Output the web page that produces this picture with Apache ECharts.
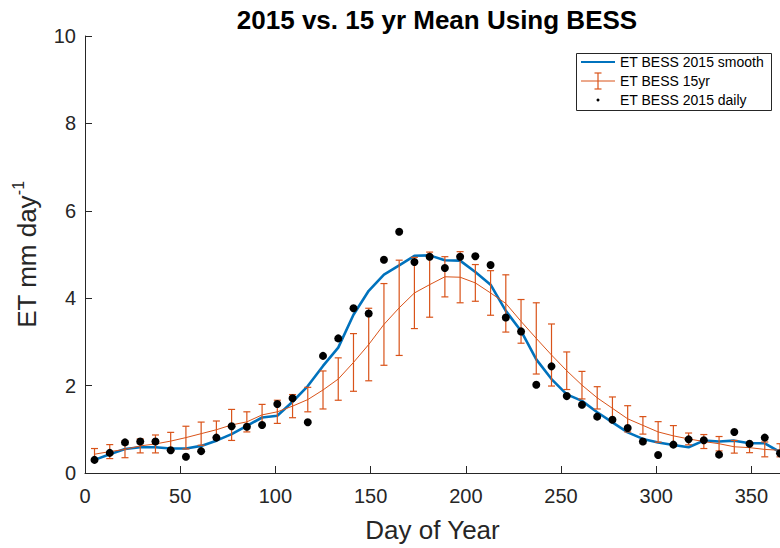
<!DOCTYPE html>
<html>
<head>
<meta charset="utf-8">
<script src="https://cdn.jsdelivr.net/npm/echarts@6/dist/echarts.min.js"></script>
<style>html,body{margin:0;padding:0;background:#fff}#c{width:780px;height:548px}</style>
</head>
<body>
<div id="c"></div>
<script>
// Day of year (8-day composites)
const days = [5,13,21,29,37,45,53,61,69,77,85,93,101,109,117,125,133,141,149,157,165,173,181,189,197,205,213,221,229,237,245,253,261,269,277,285,293,301,309,317,325,333,341,349,357,365];
// ET BESS 2015 smooth
const smooth2015 = [0.30,0.43,0.55,0.59,0.59,0.56,0.56,0.62,0.74,0.89,1.08,1.27,1.31,1.63,1.99,2.45,2.87,3.62,4.17,4.54,4.75,4.97,4.98,4.87,4.86,4.60,4.31,3.71,3.25,2.60,2.15,1.80,1.65,1.39,1.16,0.93,0.78,0.70,0.64,0.59,0.74,0.72,0.74,0.68,0.68,0.48];
// ET BESS 15yr mean
const mean15 = [0.43,0.49,0.54,0.62,0.665,0.73,0.81,0.90,0.99,1.10,1.17,1.33,1.40,1.53,1.68,1.90,2.15,2.53,2.94,3.40,3.78,4.12,4.31,4.49,4.48,4.35,4.12,3.88,3.47,3.08,2.70,2.34,2.01,1.72,1.48,1.24,1.09,0.94,0.85,0.78,0.72,0.67,0.60,0.58,0.54,0.52];
// ET BESS 15yr std (error bar half-width)
const std15 = [0.13,0.16,0.19,0.16,0.205,0.20,0.26,0.265,0.20,0.355,0.23,0.24,0.265,0.265,0.28,0.435,0.485,0.66,0.83,0.935,1.09,0.815,0.745,0.46,0.585,0.42,0.51,0.655,0.50,0.815,0.71,0.43,0.315,0.255,0.26,0.30,0.20,0.235,0.235,0.135,0.16,0.165,0.145,0.115,0.17,0.15];
// ET BESS 2015 daily
const daily2015 = [0.30,0.46,0.70,0.72,0.72,0.52,0.37,0.50,0.81,1.07,1.06,1.10,1.58,1.71,1.16,2.68,3.08,3.77,3.65,4.88,5.52,4.83,4.95,4.69,4.95,4.96,4.76,3.56,3.24,2.02,2.44,1.76,1.56,1.29,1.22,1.03,0.72,0.41,0.65,0.77,0.75,0.42,0.94,0.67,0.81,0.45];
const xTicks = [0,50,100,150,200,250,300,350];
const yTicks = [0,2,4,6,8,10];

const FONT = 'Liberation Sans, Arial, Helvetica, sans-serif';
const AX = '#262626';
const BLUE = '#0072BD';
const ORANGE = '#D95319';

const chart = echarts.init(document.getElementById('c'), null, {renderer: 'svg'});
const option = {
  animation: false,
  backgroundColor: '#fff',
  title: {
    text: '2015 vs. 15 yr Mean Using BESS',
    left: 432, top: 2, textAlign: 'center',
    textStyle: {fontFamily: FONT, fontSize: 26, fontWeight: 'bold', color: '#000'}
  },
  grid: {left: 85, top: 36, right: -2, bottom: 74, containLabel: false},
  xAxis: {
    type: 'value', min: 0, max: 365, interval: 50,
    axisLine: {show: true, lineStyle: {color: AX, width: 1}},
    axisTick: {show: true, inside: true, length: 7, lineStyle: {color: AX}},
    axisLabel: {fontFamily: FONT, fontSize: 20, color: AX, margin: 13, showMaxLabel: false,
      formatter: v => xTicks.indexOf(v) >= 0 ? String(v) : ''},
    splitLine: {show: false},
    name: 'Day of Year', nameLocation: 'middle', nameGap: 44,
    nameTextStyle: {fontFamily: FONT, fontSize: 26, color: AX}
  },
  yAxis: {
    type: 'value', min: 0, max: 10, interval: 2,
    axisLine: {show: true, lineStyle: {color: AX, width: 1}},
    axisTick: {show: true, inside: true, length: 7, lineStyle: {color: AX}},
    axisLabel: {fontFamily: FONT, fontSize: 20, color: AX, margin: 9,
      formatter: v => yTicks.indexOf(v) >= 0 ? String(v) : ''},
    splitLine: {show: false},
    name: '{a|ET mm day}{b|-1}', nameLocation: 'middle', nameGap: 45, nameRotate: 90,
    nameTextStyle: {fontFamily: FONT, color: AX,
      rich: {a: {fontFamily: FONT, fontSize: 26, color: AX, verticalAlign: 'bottom', lineHeight: 30},
             b: {fontFamily: FONT, fontSize: 16, color: AX, verticalAlign: 'top', lineHeight: 30}}}
  },
  series: [
    {name: 'ET BESS 2015 smooth', type: 'line', data: days.map((d, i) => [d, smooth2015[i]]),
     showSymbol: false, symbol: 'none', lineStyle: {color: BLUE, width: 2.6}, z: 2, silent: true},
    {name: 'ET BESS 15yr', type: 'line', data: days.map((d, i) => [d, mean15[i]]),
     showSymbol: false, symbol: 'none', lineStyle: {color: ORANGE, width: 1}, z: 3, silent: true},
    {name: 'ET BESS 15yr err', type: 'custom', z: 3, silent: true,
     data: days.map((d, i) => [d, mean15[i], std15[i]]),
     encode: {x: 0, y: 1},
     renderItem: function (params, api) {
       const x = api.value(0), y = api.value(1), e = api.value(2);
       const hi = api.coord([x, y + e]);
       const lo = api.coord([x, y - e]);
       const hw = 3.5;
       const st = {stroke: ORANGE, lineWidth: 1.2};
       return {type: 'group', children: [
         {type: 'line', shape: {x1: hi[0], y1: hi[1], x2: lo[0], y2: lo[1]}, style: st},
         {type: 'line', shape: {x1: hi[0] - hw, y1: hi[1], x2: hi[0] + hw, y2: hi[1]}, style: st},
         {type: 'line', shape: {x1: lo[0] - hw, y1: lo[1], x2: lo[0] + hw, y2: lo[1]}, style: st}
       ]};
     }},
    {name: 'ET BESS 2015 daily', type: 'scatter', data: days.map((d, i) => [d, daily2015[i]]),
     symbol: 'circle', symbolSize: 8, itemStyle: {color: '#000', opacity: 1}, z: 5, silent: true}
  ],
  graphic: [
    {type: 'rect', left: 576, top: 53, shape: {x: 0, y: 0, width: 195, height: 57},
     style: {fill: '#fff', stroke: AX, lineWidth: 1}, z: 100},
    {type: 'line', shape: {x1: 581, y1: 62, x2: 615, y2: 62}, style: {stroke: BLUE, lineWidth: 2}, z: 101},
    {type: 'text', x: 620, y: 62, style: {text: 'ET BESS 2015 smooth', fontFamily: FONT, fontSize: 14, fill: '#000', verticalAlign: 'middle'}, z: 101},
    {type: 'line', shape: {x1: 581, y1: 81, x2: 615, y2: 81}, style: {stroke: ORANGE, lineWidth: 1}, z: 101},
    {type: 'line', shape: {x1: 598, y1: 73, x2: 598, y2: 89}, style: {stroke: ORANGE, lineWidth: 1.2}, z: 101},
    {type: 'line', shape: {x1: 594.5, y1: 73, x2: 601.5, y2: 73}, style: {stroke: ORANGE, lineWidth: 1.2}, z: 101},
    {type: 'line', shape: {x1: 594.5, y1: 89, x2: 601.5, y2: 89}, style: {stroke: ORANGE, lineWidth: 1.2}, z: 101},
    {type: 'text', x: 620, y: 81, style: {text: 'ET BESS 15yr', fontFamily: FONT, fontSize: 14, fill: '#000', verticalAlign: 'middle'}, z: 101},
    {type: 'circle', shape: {cx: 598, cy: 100, r: 1.5}, style: {fill: '#000'}, z: 101},
    {type: 'text', x: 620, y: 100, style: {text: 'ET BESS 2015 daily', fontFamily: FONT, fontSize: 14, fill: '#000', verticalAlign: 'middle'}, z: 101}
  ]
};
chart.setOption(option);
</script>
</body>
</html>
